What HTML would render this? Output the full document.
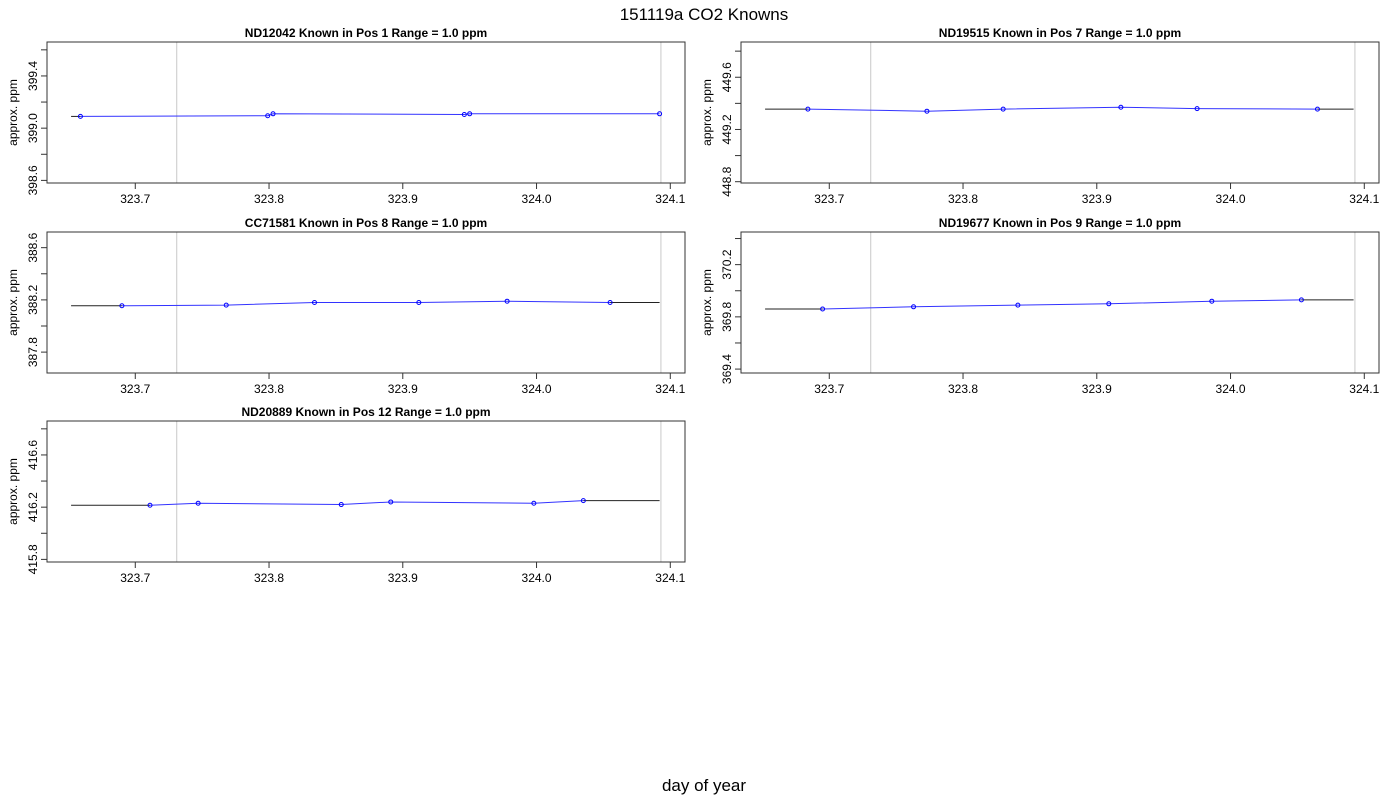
<!DOCTYPE html>
<html><head><meta charset="utf-8"><style>
body{margin:0;background:#fff;font-family:"Liberation Sans",sans-serif}
svg text{font-family:"Liberation Sans",sans-serif}
</style></head><body>
<svg id="c" width="1400" height="800">
<text x="704" y="20" font-size="17" text-anchor="middle">151119a   CO2 Knowns</text>
<text x="704" y="791" font-size="17" text-anchor="middle">day of year</text>
</svg>
<script>
const panelTitles=["ND12042    Known in Pos 1         Range = 1.0 ppm","ND19515    Known in Pos 7         Range = 1.0 ppm","CC71581    Known in Pos 8         Range = 1.0 ppm","ND19677    Known in Pos 9         Range = 1.0 ppm","ND20889    Known in Pos 12         Range = 1.0 ppm"];
const yCenters=[399.12,449.33,388.18,369.91,416.32];
const xs1=[323.659,323.799,323.803,323.946,323.950,324.092];
const ys1=[399.09,399.095,399.11,399.105,399.11,399.11];
const xs2=[323.684,323.773,323.830,323.918,323.975,324.065];
const ys2=[449.356,449.34,449.356,449.37,449.36,449.356];
const xs3=[323.690,323.768,323.834,323.912,323.978,324.055];
const ys3=[388.155,388.16,388.18,388.18,388.19,388.18];
const xs4=[323.695,323.763,323.841,323.909,323.986,324.053];
const ys4=[369.86,369.877,369.89,369.9,369.92,369.93];
const xs5=[323.711,323.747,323.854,323.891,323.998,324.035];
const ys5=[416.215,416.23,416.22,416.24,416.23,416.25];
const xTicks=[323.7,323.8,323.9,324.0,324.1];
const vLines=[323.731,324.093];
const lineStart=323.652, lineEnd=324.092;
const X=[xs1,xs2,xs3,xs4,xs5], Y=[ys1,ys2,ys3,ys4,ys5];
const boxes=[[47,42],[741,42],[47,232],[741,232],[47,421]];
const W=638,H=141,xmin=323.634,xmax=324.111;
const svg=document.getElementById('c');const NS='http://www.w3.org/2000/svg';
function mk(t,a,p){const e=document.createElementNS(NS,t);for(const k in a)e.setAttribute(k,a[k]);(p||svg).appendChild(e);return e;}
for(let i=0;i<5;i++){
 const [bx,by]=boxes[i];
 const g=mk('g',{});
 
 
 const ymin=yCenters[i]-0.54,ymax=yCenters[i]+0.54;
 const sx=v=>bx+(v-xmin)/(xmax-xmin)*W, sy=v=>by+H-(v-ymin)/(ymax-ymin)*H;
 vLines.forEach(v=>{const l=mk('line',{x1:sx(v),x2:sx(v),y1:by,y2:by+H,stroke:'#c8c8c8','stroke-width':1},g);
  
  });
 const r=mk('rect',{x:bx,y:by,width:W,height:H,fill:'none',stroke:'#333','stroke-width':1},g);
 
 
 const t=mk('text',{x:bx+W/2,y:by-5,'font-size':12,'font-weight':'bold','text-anchor':'middle','xml:space':'preserve'},g);
 t.textContent=panelTitles[i];
 
 
 const yl=mk('text',{transform:`translate(${bx-30},${by+H/2}) rotate(-90)`,'font-size':12,'text-anchor':'middle'},g);
 yl.textContent='approx. ppm';
 
 
 xTicks.forEach(v=>{const x=sx(v);mk('line',{x1:x,x2:x,y1:by+H,y2:by+H+6,stroke:'#333'},g);
  const tl=mk('text',{x:x,y:by+H+20,'font-size':12,'text-anchor':'middle'},g);tl.textContent=v.toFixed(1);
  
  });
 let first=Math.ceil(ymin/0.2-1e-9)*0.2,k=0;
 for(let v=first;v<=ymax+1e-9;v+=0.2,k++){const y=sy(v);mk('line',{x1:bx-6,x2:bx,y1:y,y2:y,stroke:'#333'},g);
  if(k%2==0){const tl=mk('text',{transform:`translate(${bx-10},${y}) rotate(-90)`,'font-size':12,'text-anchor':'middle'},g);tl.textContent=v.toFixed(1);
  
  }}
 const xs=X[i],ys=Y[i];
 mk('line',{x1:sx(lineStart),y1:sy(ys[0]),x2:sx(xs[0]),y2:sy(ys[0]),stroke:'#222'},g);
 mk('line',{x1:sx(xs[xs.length-1]),y1:sy(ys[ys.length-1]),x2:sx(lineEnd),y2:sy(ys[ys.length-1]),stroke:'#222'},g);
 const pl=mk('polyline',{points:xs.map((v,j)=>sx(v)+','+sy(ys[j])).join(' '),fill:'none',stroke:'#3333ff','stroke-width':1},g);
 
 
 xs.forEach((v,j)=>{const c=mk('circle',{cx:sx(v),cy:sy(ys[j]),r:2,fill:'none',stroke:'#0000ff','stroke-width':1},g);
  
  });
}
</script>
</body></html>
